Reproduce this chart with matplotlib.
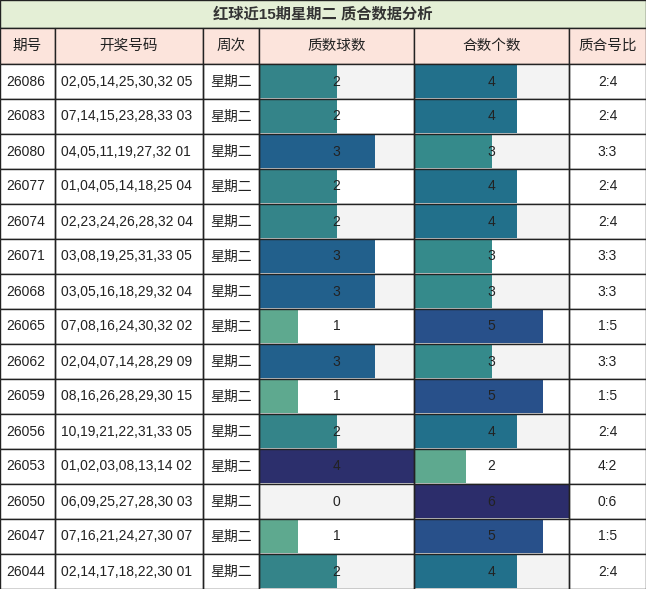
import matplotlib
matplotlib.use('Agg')
import matplotlib.pyplot as plt
from matplotlib.patches import Rectangle

plt.rcParams['font.family'] = ['Liberation Sans', 'Noto Sans CJK SC', 'DejaVu Sans']

title = '红球近15期星期二 质合数据分析'
headers = ['期号', '开奖号码', '周次', '质数球数', '合数个数', '质合号比']
issues = ['26086', '26083', '26080', '26077', '26074', '26071', '26068', '26065',
          '26062', '26059', '26056', '26053', '26050', '26047', '26044']
draws = ['02,05,14,25,30,32 05', '07,14,15,23,28,33 03', '04,05,11,19,27,32 01',
         '01,04,05,14,18,25 04', '02,23,24,26,28,32 04', '03,08,19,25,31,33 05',
         '03,05,16,18,29,32 04', '07,08,16,24,30,32 02', '02,04,07,14,28,29 09',
         '08,16,26,28,29,30 15', '10,19,21,22,31,33 05', '01,02,03,08,13,14 02',
         '06,09,25,27,28,30 03', '07,16,21,24,27,30 07', '02,14,17,18,22,30 01']
weekday = '星期二'
primes = [2, 2, 3, 2, 2, 3, 3, 1, 3, 1, 2, 4, 0, 1, 2]
composites = [4, 4, 3, 4, 4, 3, 3, 5, 3, 5, 4, 2, 6, 5, 4]

prime_colors = {1: '#5ea98f', 2: '#348489', 3: '#22608c', 4: '#2c2f6c'}
comp_colors = {2: '#5ea98f', 3: '#358a8b', 4: '#22708b', 5: '#28508a', 6: '#2c2d6b'}

W, H = 646, 589
cols = [0, 55, 203, 259, 414, 569, 646]
title_h = 28
head_h = 36
row_h = (H - title_h - head_h) / len(issues)

fig = plt.figure(figsize=(W / 100, H / 100), dpi=100)
ax = fig.add_axes([0, 0, 1, 1])
ax.set_xlim(0, W)
ax.set_ylim(H, 0)
ax.axis('off')

line = '#222222'
ax.add_patch(Rectangle((0, 0), W, title_h, fc='#e4efd6', ec=line, lw=1))
ax.text(W / 2, title_h / 2, title, ha='center', va='center', fontsize=11, fontweight='bold', color='#333333')

for i, h in enumerate(headers):
    x0, x1 = cols[i], cols[i + 1]
    ax.add_patch(Rectangle((x0, title_h), x1 - x0, head_h, fc='#fce4dc', ec=line, lw=1))
    ax.text((x0 + x1) / 2, title_h + head_h / 2, h, ha='center', va='center', fontsize=10.5, color='#222222')

for r in range(len(issues)):
    y0 = title_h + head_h + r * row_h
    yc = y0 + row_h / 2
    p, c = primes[r], composites[r]
    texts = [issues[r], draws[r], weekday, str(p), str(c), '%d:%d' % (p, c)]
    for i in range(6):
        x0, x1 = cols[i], cols[i + 1]
        bg = '#f3f3f3' if (i in (3, 4) and r % 2 == 0) else 'white'
        ax.add_patch(Rectangle((x0, y0), x1 - x0, row_h, fc=bg, ec='none'))
    # bars
    pw = (cols[4] - cols[3]) * p / 4
    if p > 0:
        ax.add_patch(Rectangle((cols[3], y0 + 1), pw, row_h - 2, fc=prime_colors[p], ec='none'))
    cw = (cols[5] - cols[4]) * c / 6
    ax.add_patch(Rectangle((cols[4], y0 + 1), cw, row_h - 2, fc=comp_colors[c], ec='none'))
    for i in range(6):
        x0, x1 = cols[i], cols[i + 1]
        ax.add_patch(Rectangle((x0, y0), x1 - x0, row_h, fc='none', ec=line, lw=1))
        if i in (0, 1):
            ax.text(x0 + 6, yc, texts[i], ha='left', va='center', fontsize=10, color='#222222')
        else:
            ax.text((x0 + x1) / 2, yc, texts[i], ha='center', va='center', fontsize=10, color='#222222')

fig.savefig('out.png', dpi=100)
